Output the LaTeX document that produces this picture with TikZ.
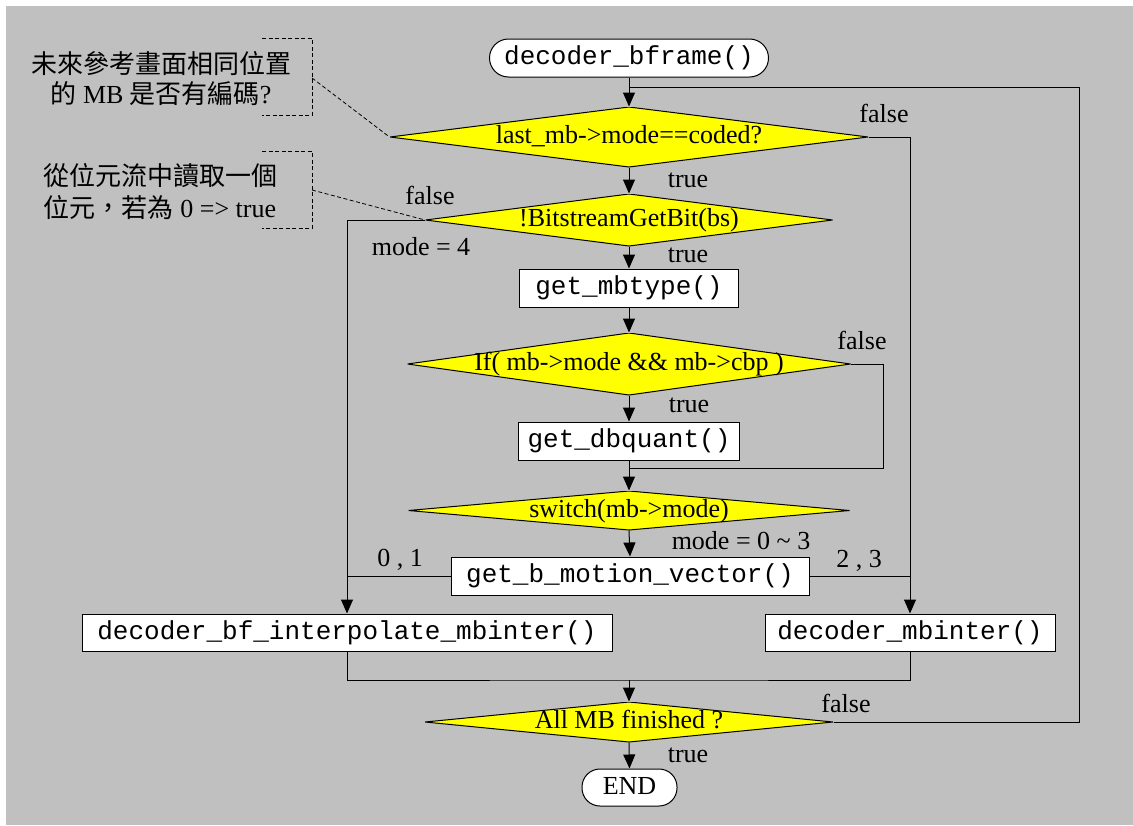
\documentclass[tikz,border=0pt]{standalone}
\usepackage{fontspec}
\setmainfont{Liberation Serif}
\newfontfamily\codefont{Liberation Mono}
\newfontfamily\cjkfont{Noto Sans CJK TC}
\usetikzlibrary{arrows.meta}

\definecolor{panelgray}{RGB}{192,192,192}
\definecolor{decyellow}{RGB}{255,255,0}

\begin{document}
\begin{tikzpicture}[x=1pt,y=-1pt,
  line width=1pt,
  every node/.style={font=\fontsize{26}{30}\selectfont, inner sep=0pt},
  box/.style={draw, fill=white, font=\fontsize{26}{30}\selectfont\codefont,
    text height=18pt, text depth=5pt},
  term/.style={box, rounded corners=18pt},
  dec/.style={text height=18pt, text depth=5pt,
    path picture={\draw[fill=decyellow, line width=1pt]
      (path picture bounding box.west) -- (path picture bounding box.north) --
      (path picture bounding box.east) -- (path picture bounding box.south) -- cycle;}},
  lbl/.style={text height=18pt, text depth=0pt},
  arr/.style={-{Triangle[length=14pt,width=12pt]}},
  notebr/.style={dash pattern=on 4pt off 2.5pt, line width=0.8pt},
]
\useasboundingbox (0,0) rectangle (1133,825);
\fill[white] (0,0) rectangle (1133,825);
\fill[panelgray] (6,6) rectangle (1133,825);

% flowchart nodes
\node[term, minimum width=279pt, minimum height=38pt, rounded corners=19pt] (start) at (629,58) {decoder\_bframe()};
\node[dec, minimum width=478pt, minimum height=60pt] (d1) at (629,137) {last\_mb->mode==coded?};
\node[dec, minimum width=407pt, minimum height=52pt] (d2) at (629,220) {!BitstreamGetBit(bs)};
\node[box, minimum width=219pt, minimum height=38pt] (mbtype) at (629,288) {get\_mbtype()};
\node[dec, minimum width=443pt, minimum height=62pt] (d3) at (629,364) {If( mb->mode \&\& mb->cbp )};
\node[box, minimum width=221pt, minimum height=38pt] (dbq) at (629,441) {get\_dbquant()};
\node[dec, minimum width=441pt, minimum height=39pt] (d4) at (629,510.5) {switch(mb->mode)};
\node[box, minimum width=358pt, minimum height=38pt] (gbm) at (630,576) {get\_b\_motion\_vector()};
\node[box, minimum width=530pt, minimum height=37pt] (interp) at (347,632.5) {decoder\_bf\_interpolate\_mbinter()};
\node[box, minimum width=290pt, minimum height=37pt] (mbi) at (910,632.5) {decoder\_mbinter()};
\node[dec, minimum width=408pt, minimum height=40pt] (d5) at (629,722) {All MB finished ?};
\node[term, minimum width=95pt, minimum height=37pt, font=\fontsize{26}{30}\selectfont\rmfamily] (end) at (629.5,787.5) {END};

% junction points
\coordinate (loopR) at (1079,87);
\coordinate (top) at (629,87);
\coordinate (j3) at (883,468);
\coordinate (j3m) at (629,468);
\coordinate (j5) at (629,680);

% connectors
\draw[arr] (start.south) -- (d1.north);
\draw (d5.east) -| (loopR) -- (top);
\draw[arr] (d1.east) -| (mbi.north);
\draw[arr] (d1.south) -- (d2.north);
\draw[arr] (d2.west) -| (interp.north);
\draw[arr] (d2.south) -- (mbtype.north);
\draw[arr] (mbtype.south) -- (d3.north);
\draw[arr] (d3.south) -- (dbq.north);
\draw (d3.east) -| (j3) -- (j3m);
\draw[arr] (dbq.south) -- (d4.north);
\draw[arr] (d4.south) -- (gbm.north);
\draw (gbm.west) -- (gbm.west -| interp.north);
\draw (gbm.east) -- (gbm.east -| mbi.north);
\draw (interp.south) |- (j5) -| (mbi.south);
\draw[arr] (j5) -- (d5.north);
\draw[arr] (d5.south) -- (end.north);

% branch labels
\node[lbl] (f1) at (884,113) {false};
\node[lbl] (t1) at (688,178) {true};
\node[lbl] (f2) at (430,195) {false};
\node[lbl] (m4) at (421,246) {mode = 4};
\node[lbl] (t2) at (688,253) {true};
\node[lbl] (f3) at (862,340) {false};
\node[lbl] (t3) at (689,403) {true};
\node[lbl] (m03) at (741,540) {mode = 0 \textasciitilde{} 3};
\node[lbl] (c01) at (400,557) {0 , 1};
\node[lbl] (c23) at (859,558) {2 , 3};
\node[lbl] (f5) at (846,703) {false};
\node[lbl] (t5) at (688,753) {true};

% side notes with dashed brackets
\node[align=center] (note1) at (161,79) {{\cjkfont 未來參考畫面相同位置}\\{\cjkfont 的} MB {\cjkfont 是否有編碼}?};
\draw[notebr] (262,38) -- (312,38) -- (312,115) -- (262,115);
\coordinate (note1r) at (312,78);
\draw[notebr] (note1r) -- (d1.west);

\node[align=center] (note2) at (160,192) {{\cjkfont 從位元流中讀取一個}\\[2pt]{\cjkfont 位元，若為} 0 => true};
\draw[notebr] (262,151) -- (312,151) -- (312,228) -- (262,228);
\coordinate (note2r) at (312,190);
\draw[notebr] (note2r) -- (d2.west);
\end{tikzpicture}
\end{document}
